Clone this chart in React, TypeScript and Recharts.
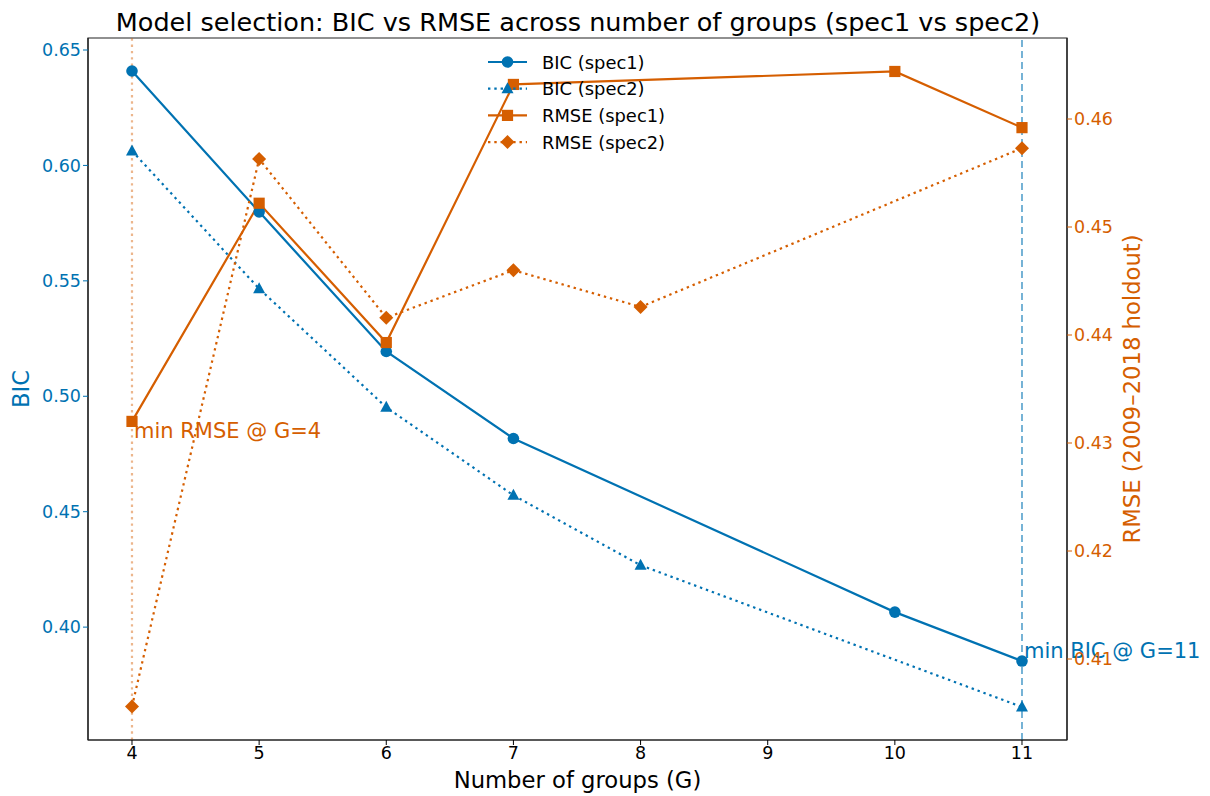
import React from "react";
import {
  ComposedChart,
  Line,
  XAxis,
  YAxis,
  ReferenceLine,
  ReferenceArea,
  ReferenceDot,
} from "recharts";

const BLUE = "#0072B2";
const ORANGE = "#D55E00";
const FONT = "DejaVu Sans, sans-serif";
const DOTTED = "2.4 3.9";

// G values (spec1 has no G=8 point, spec2 has no G=10 point)
const groups = [4, 5, 6, 7, 8, 10, 11];
const bicSpec1 = [0.6409, 0.5799, 0.5194, 0.4817, null, 0.4065, 0.3853];
const bicSpec2 = [0.6063, 0.5466, 0.4952, 0.4571, 0.4268, null, 0.3654];
const rmseSpec1 = [0.432, 0.4522, 0.4393, 0.4632, null, 0.4644, 0.4592];
const rmseSpec2 = [0.4056, 0.4563, 0.4416, 0.446, 0.4426, null, 0.4573];

const xTicks = [4, 5, 6, 7, 8, 9, 10, 11];
const bicTicks = [0.4, 0.45, 0.5, 0.55, 0.6, 0.65];
const rmseTicks = [0.41, 0.42, 0.43, 0.44, 0.45, 0.46];

const xDomain = [3.654, 11.354];
const bicDomain = [0.3511, 0.6552];
const rmseDomain = [0.4025, 0.4675];

const data = groups.map((g, i) => ({
  g,
  bic1: bicSpec1[i],
  bic2: bicSpec2[i],
  rmse1: rmseSpec1[i],
  rmse2: rmseSpec2[i],
}));

type Shape = "circle" | "triangle" | "square" | "diamond";

function markerEl(shape: Shape, cx: number, cy: number, color: string, key?: any) {
  if (shape === "circle") return <circle key={key} cx={cx} cy={cy} r={5.8} fill={color} />;
  if (shape === "square") return <rect key={key} x={cx - 5.6} y={cy - 5.6} width={11.2} height={11.2} fill={color} />;
  if (shape === "triangle")
    return <polygon key={key} points={`${cx},${cy - 6.5} ${cx + 6},${cy + 4.5} ${cx - 6},${cy + 4.5}`} fill={color} />;
  return <polygon key={key} points={`${cx},${cy - 7} ${cx + 7},${cy} ${cx},${cy + 7} ${cx - 7},${cy}`} fill={color} />;
}

const makeDot = (shape: Shape, color: string) => (props: any) => {
  const { cx, cy, index, value } = props;
  if (value == null || cx == null || cy == null || isNaN(cy)) return <g key={`e-${index}`} />;
  return markerEl(shape, cx, cy, color, `d-${index}`);
};

const legendItems = [
  { label: "BIC (spec1)", color: BLUE, dash: undefined, shape: "circle" as Shape },
  { label: "BIC (spec2)", color: BLUE, dash: DOTTED, shape: "triangle" as Shape },
  { label: "RMSE (spec1)", color: ORANGE, dash: undefined, shape: "square" as Shape },
  { label: "RMSE (spec2)", color: ORANGE, dash: DOTTED, shape: "diamond" as Shape },
];

function LegendBox() {
  return (
    <svg width={200} height={110} style={{ position: "absolute", left: 485, top: 52, overflow: "visible", zIndex: 2 }}>
      {legendItems.map((it, i) => {
        const y = 10 + i * 26.7;
        return (
          <g key={it.label}>
            <line x1={3} x2={42} y1={y} y2={y} stroke={it.color} strokeWidth={2.2} strokeDasharray={it.dash} />
            {markerEl(it.shape, 22.5, y, it.color)}
            <text x={57} y={y} dominantBaseline="central" fontFamily={FONT} fontSize={17.9} fill="#000">
              {it.label}
            </text>
          </g>
        );
      })}
    </svg>
  );
}

const tickStyle = { fontFamily: FONT, fontSize: 17.5 };

export default function App() {
  return (
    <div style={{ position: "absolute", left: 0, top: 0, width: 1210, height: 796, background: "#fff" }}>
      <div
        style={{
          position: "absolute",
          left: 0,
          width: 1156,
          top: 7,
          textAlign: "center",
          fontFamily: FONT,
          fontSize: 25.5,
          lineHeight: "30px",
          color: "#000",
          zIndex: 2,
        }}
      >
        Model selection: BIC vs RMSE across number of groups (spec1 vs spec2)
      </div>
      <ComposedChart width={1210} height={796} data={data} margin={{ top: 38, right: 0, left: 0, bottom: 0 }}>
        <XAxis
          dataKey="g"
          type="number"
          domain={xDomain}
          ticks={xTicks}
          allowDataOverflow
          height={56}
          tick={{ ...tickStyle, fill: "#000" }}
          tickLine={{ stroke: "#000" }}
          axisLine={{ stroke: "#222", strokeWidth: 1.2 }}
          tickSize={5}
          label={{ value: "Number of groups (G)", position: "insideBottom", offset: 8, style: { fontFamily: FONT, fontSize: 22.7, fill: "#000" } }}
        />
        <YAxis
          yAxisId="left"
          domain={bicDomain}
          ticks={bicTicks}
          allowDataOverflow
          width={88}
          tickFormatter={(v: number) => v.toFixed(2)}
          tick={{ ...tickStyle, fill: BLUE }}
          tickLine={{ stroke: BLUE }}
          axisLine={{ stroke: "#222", strokeWidth: 1.2 }}
          tickSize={5}
          label={{ value: "BIC", angle: -90, position: "insideLeft", offset: 21, style: { fontFamily: FONT, fontSize: 22.7, fill: BLUE, textAnchor: "middle" } }}
        />
        <YAxis
          yAxisId="right"
          orientation="right"
          domain={rmseDomain}
          ticks={rmseTicks}
          allowDataOverflow
          width={143}
          tickFormatter={(v: number) => v.toFixed(2)}
          tick={{ ...tickStyle, fill: ORANGE }}
          tickLine={{ stroke: ORANGE }}
          axisLine={{ stroke: "#222", strokeWidth: 1.2 }}
          tickSize={5}
          label={{ value: "RMSE (2009–2018 holdout)", angle: -90, position: "insideRight", offset: 78, style: { fontFamily: FONT, fontSize: 22.7, fill: ORANGE, textAnchor: "middle" } }}
        />
        <ReferenceArea
          yAxisId="left"
          x1={xDomain[0]}
          x2={xDomain[1]}
          y1={bicDomain[0]}
          y2={bicDomain[1]}
          fill="none"
          stroke="#222"
          strokeWidth={1.2}
          ifOverflow="visible"
        />
        <ReferenceLine yAxisId="left" x={4} stroke={ORANGE} strokeOpacity={0.45} strokeWidth={2.2} strokeDasharray={DOTTED} />
        <ReferenceLine yAxisId="left" x={11} stroke={BLUE} strokeOpacity={0.6} strokeWidth={1.8} strokeDasharray="7 4" />
        <Line yAxisId="left" dataKey="bic1" name="BIC (spec1)" stroke={BLUE} strokeWidth={2.2} connectNulls dot={makeDot("circle", BLUE)} activeDot={false} isAnimationActive={false} />
        <Line yAxisId="left" dataKey="bic2" name="BIC (spec2)" stroke={BLUE} strokeWidth={2.2} strokeDasharray={DOTTED} connectNulls dot={makeDot("triangle", BLUE)} activeDot={false} isAnimationActive={false} />
        <Line yAxisId="right" dataKey="rmse1" name="RMSE (spec1)" stroke={ORANGE} strokeWidth={2.2} connectNulls dot={makeDot("square", ORANGE)} activeDot={false} isAnimationActive={false} />
        <Line yAxisId="right" dataKey="rmse2" name="RMSE (spec2)" stroke={ORANGE} strokeWidth={2.2} strokeDasharray={DOTTED} connectNulls dot={makeDot("diamond", ORANGE)} activeDot={false} isAnimationActive={false} />
        <ReferenceDot
          yAxisId="right"
          x={4}
          y={rmseSpec1[0]}
          r={0}
          ifOverflow="visible"
          label={(p: any) => (
            <text x={p.viewBox.x + 2} y={p.viewBox.y + 10} dominantBaseline="central" fontFamily={FONT} fontSize={21} fill={ORANGE}>
              min RMSE @ G=4
            </text>
          )}
        />
        <ReferenceDot
          yAxisId="left"
          x={11}
          y={bicSpec1[6]}
          r={0}
          ifOverflow="visible"
          label={(p: any) => (
            <text x={p.viewBox.x + 2} y={p.viewBox.y - 10} dominantBaseline="central" fontFamily={FONT} fontSize={21} fill={BLUE}>
              min BIC @ G=11
            </text>
          )}
        />
      </ComposedChart>
      <LegendBox />
    </div>
  );
}
